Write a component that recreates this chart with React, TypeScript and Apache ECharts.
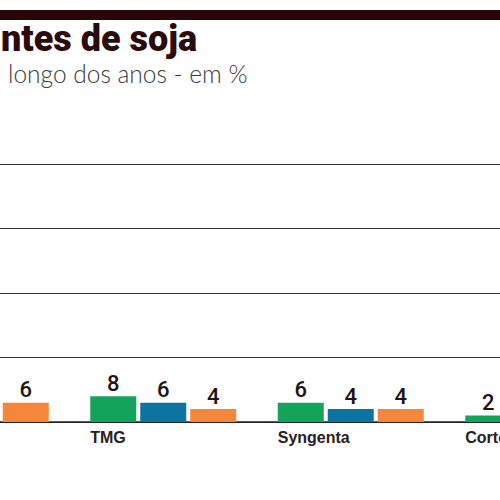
import React, { useRef, useEffect } from 'react';
import * as echarts from 'echarts';

// categories (first group and Corteva are only partly visible in the crop;
// values that lie outside the crop are unknown and left empty)
const categories = ['', 'TMG', 'Syngenta', 'Corteva'];
const greenValues = [null, 8, 6, 2];
const blueValues = [null, 6, 4, null];
const orangeValues = [6, 4, 4, null];
const yTicks = [0, 20, 40, 60, 80];

// the chart is wider than the visible window, shifted left by this many px
const SHIFT = 118;

const App = () => {
    const chartRef = useRef(null);

    useEffect(() => {
        const myChart = echarts.init(chartRef.current, null, { renderer: 'svg' });

        const barLabel = {
            show: true,
            position: 'top',
            distance: 2,
            fontSize: 22,
            fontWeight: 500,
            fontFamily: 'Roboto',
            color: '#221212'
        };

        const option = {
            animation: false,
            backgroundColor: '#ffffff',
            graphic: [
                {
                    type: 'rect',
                    shape: { x: SHIFT, y: 10, width: 500, height: 10 },
                    style: { fill: '#2a0707' }
                },
                {
                    type: 'text',
                    x: SHIFT + 1,
                    y: 21,
                    style: {
                        text: 'ntes de soja',
                        fontSize: 36,
                        fontWeight: 900,
                        fontFamily: 'Roboto',
                        fill: '#2a0a0a'
                    }
                },
                {
                    type: 'text',
                    x: SHIFT + 8,
                    y: 61,
                    style: {
                        text: 'longo dos anos - em %',
                        fontSize: 24.5,
                        fontWeight: 300,
                        fontFamily: 'Lato',
                        fill: '#3a3a3a'
                    }
                }
            ],
            grid: {
                left: 0,
                right: 0,
                top: 164,
                bottom: 78
            },
            xAxis: {
                type: 'category',
                data: categories,
                axisLine: { show: true, lineStyle: { color: '#222', width: 1.5 } },
                axisTick: { show: false },
                axisLabel: {
                    margin: 7,
                    formatter: (v: string) => `{a|${v}}`,
                    rich: {
                        a: {
                            width: 146,
                            align: 'left',
                            fontSize: 16,
                            fontWeight: 'bold',
                            fontFamily: 'Liberation Sans',
                            color: '#2a2020'
                        }
                    }
                }
            },
            yAxis: {
                type: 'value',
                min: yTicks[0],
                max: yTicks[yTicks.length - 1],
                interval: 20,
                axisLine: { show: false },
                axisTick: { show: false },
                axisLabel: { show: false },
                splitLine: { lineStyle: { color: '#333', width: 1 } }
            },
            series: [
                {
                    type: 'bar',
                    data: greenValues,
                    barWidth: 46,
                    barGap: '8.7%',
                    itemStyle: { color: '#14a35a' },
                    label: barLabel
                },
                {
                    type: 'bar',
                    data: blueValues,
                    barWidth: 46,
                    barGap: '8.7%',
                    itemStyle: { color: '#0b74a0' },
                    label: barLabel
                },
                {
                    type: 'bar',
                    data: orangeValues,
                    barWidth: 46,
                    barGap: '8.7%',
                    itemStyle: { color: '#f5863a' },
                    label: barLabel
                }
            ]
        };

        myChart.setOption(option);

        return () => {
            myChart.dispose();
        };
    }, []);

    return (
        <div
            style={{
                position: 'fixed',
                top: 0,
                left: 0,
                width: '500px',
                height: '500px',
                overflow: 'hidden',
                background: '#fff'
            }}
        >
            <div
                ref={chartRef}
                style={{
                    position: 'absolute',
                    top: 0,
                    left: `-${SHIFT}px`,
                    width: '750px',
                    height: '500px'
                }}
            />
        </div>
    );
};

export default App;
